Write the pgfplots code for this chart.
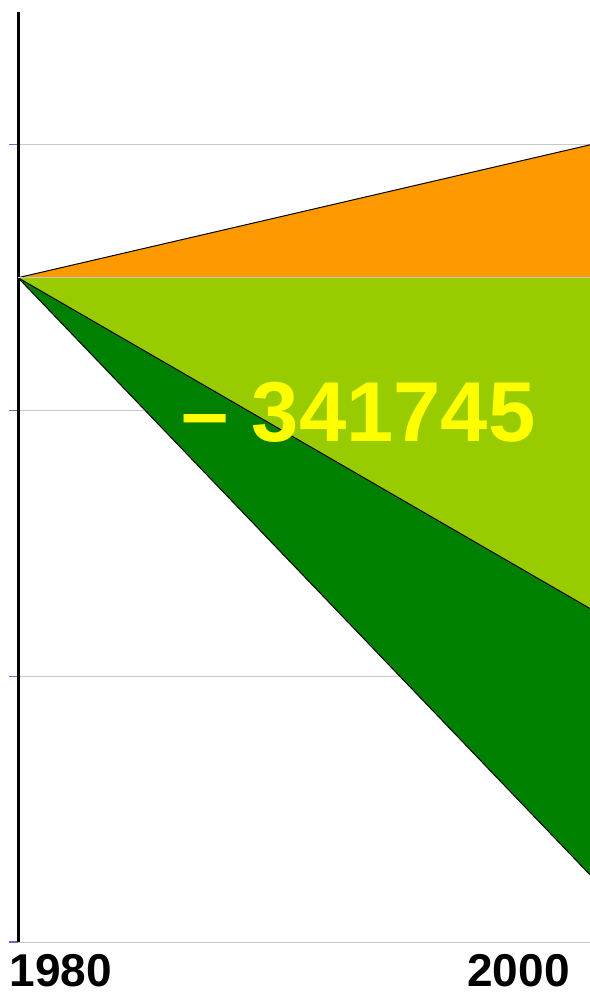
\documentclass[border=0pt]{standalone}
\usepackage{pgfplots}
\pgfplotsset{compat=1.18}
\usepackage{fontspec}
\setmainfont{Liberation Sans}
\definecolor{orng}{HTML}{FF9900}
\definecolor{lgreen}{HTML}{99CC00}
\definecolor{dgreen}{HTML}{008000}
\definecolor{ylw}{HTML}{FFFF00}
\definecolor{tickblue}{HTML}{6A6AC0}
\definecolor{gridgray}{HTML}{C8C8C8}
\begin{document}
\begin{tikzpicture}
\begin{axis}[
  scale only axis,
  width=572pt, height=930pt,
  xmin=1980, xmax=2000,
  ymin=-2.5, ymax=1.0,
  axis lines*=left,
  x axis line style={draw=gridgray, line width=1pt},
  y axis line style={draw=black, line width=3pt},
  ytick={0.5,-0.5,-1.5,-2.5},
  yticklabels={},
  ymajorgrids,
  grid style={draw=gridgray, line width=1pt},
  ytick style={draw=tickblue, line width=1.2pt},
  tick align=outside,
  major tick length=9pt,
  xtick={1981.5,1997.5},
  xticklabels={1980,2000},
  xtick style={draw=none},
  xticklabel style={font=\fontsize{46}{46}\bfseries\selectfont, inner sep=0pt, anchor=north, yshift=-3pt},
  clip=false,
]
% light green area: zero to light green line
\addplot[fill=lgreen, draw=none] coordinates {(1980,0) (2000,0) (2000,-1.245)} -- cycle;
% dark green area: between the two lines
\addplot[fill=dgreen, draw=none] coordinates {(1980,0) (2000,-1.245) (2000,-2.247)} -- cycle;
% orange area: zero to orange line
\addplot[fill=orng, draw=none] coordinates {(1980,0) (2000,0.5) (2000,0)} -- cycle;
% boundary lines
\addplot[black, line width=1pt] coordinates {(1980,0) (2000,0.5)};
\addplot[black, line width=1pt] coordinates {(1980,0) (2000,-1.245)};
\addplot[black, line width=1pt] coordinates {(1980,0) (2000,-2.247)};
\addplot[gridgray, line width=1.5pt] coordinates {(1980,0) (2000,0)};
\node[text=ylw, font=\fontsize{85}{85}\bfseries\selectfont, inner sep=0pt, anchor=center] at (axis cs:1991.9,-0.508) {– 341745};
\end{axis}
\pgfresetboundingbox
\path ([shift={(-18pt,-55pt)}]current axis.south west) rectangle ([shift={(0pt,12pt)}]current axis.north east);
\end{tikzpicture}
\end{document}
